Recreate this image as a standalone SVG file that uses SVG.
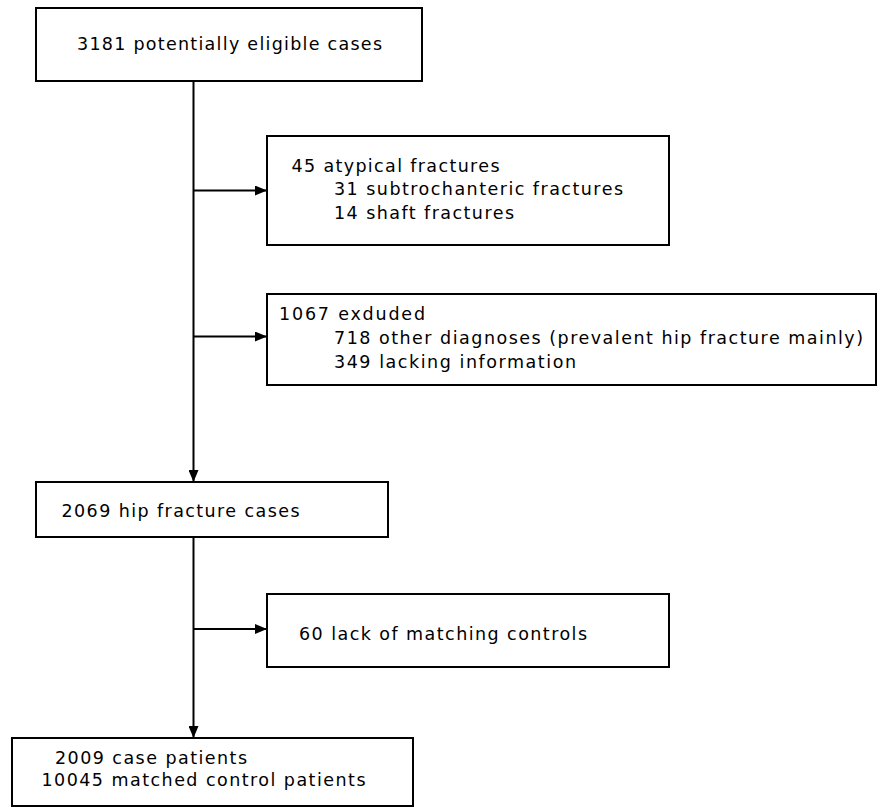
<svg xmlns="http://www.w3.org/2000/svg" width="882" height="807" viewBox="0 0 882 807">
<defs>
<style>
.box{fill:#fff;stroke:#000;stroke-width:2}
.t{font-family:"DejaVu Sans","Verdana",sans-serif;font-size:17.5px;fill:#000}
.ln{stroke:#000;stroke-width:2;fill:none}
</style>
<marker id="ah" markerWidth="12" markerHeight="10" refX="12" refY="5" orient="auto" markerUnits="userSpaceOnUse">
<path d="M0,0 L12,5 L0,10 Z" fill="#000"/>
</marker>
</defs>
<rect width="882" height="807" fill="#fff"/>
<g id="connectors">
<line class="ln" x1="193.5" y1="81" x2="193.5" y2="482" marker-end="url(#ah)"/>
<line class="ln" x1="193.5" y1="190.5" x2="267" y2="190.5" marker-end="url(#ah)"/>
<line class="ln" x1="193.5" y1="336.5" x2="267" y2="336.5" marker-end="url(#ah)"/>
<line class="ln" x1="193.5" y1="537" x2="193.5" y2="738" marker-end="url(#ah)"/>
<line class="ln" x1="193.5" y1="629" x2="267" y2="629" marker-end="url(#ah)"/>
</g>
<g id="n1">
<rect class="box" x="36" y="8" width="386" height="73"/>
<text class="t" x="77" y="50" textLength="305" lengthAdjust="spacing">3181 potentially eligible cases</text>
</g>
<g id="n2">
<rect class="box" x="267" y="136" width="402" height="109"/>
<text class="t" x="291.5" y="171.5" textLength="208" lengthAdjust="spacing">45 atypical fractures</text>
<text class="t" x="334" y="195" textLength="289" lengthAdjust="spacing">31 subtrochanteric fractures</text>
<text class="t" x="334" y="219" textLength="180" lengthAdjust="spacing">14 shaft fractures</text>
</g>
<g id="n3">
<rect class="box" x="267" y="294" width="609" height="91"/>
<text class="t" x="279" y="319.5" textLength="146" lengthAdjust="spacing">1067 exduded</text>
<text class="t" x="334" y="343.5" textLength="529" lengthAdjust="spacing">718 other diagnoses (prevalent hip fracture mainly)</text>
<text class="t" x="334" y="367.5" textLength="242" lengthAdjust="spacing">349 lacking information</text>
</g>
<g id="n4">
<rect class="box" x="36" y="482" width="352" height="55"/>
<text class="t" x="61.5" y="516.5" textLength="238" lengthAdjust="spacing">2069 hip fracture cases</text>
</g>
<g id="n5">
<rect class="box" x="267" y="594" width="402" height="73"/>
<text class="t" x="299" y="640" textLength="288" lengthAdjust="spacing">60 lack of matching controls</text>
</g>
<g id="n6">
<rect class="box" x="12" y="738" width="401" height="68"/>
<text class="t" x="55" y="764" textLength="192" lengthAdjust="spacing">2009 case patients</text>
<text class="t" x="41.5" y="786" textLength="324" lengthAdjust="spacing">10045 matched control patients</text>
</g>
</svg>
